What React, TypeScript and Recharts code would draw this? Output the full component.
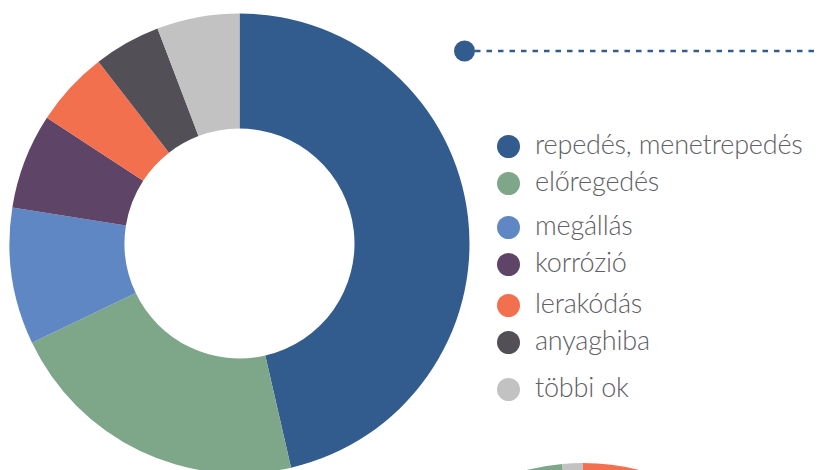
import { PieChart, Pie, Cell, Customized } from 'recharts';

// main donut: causes of failure, share in %
const categories = [
  'repedés, menetrepedés',
  'előregedés',
  'megállás',
  'korrózió',
  'lerakódás',
  'anyaghiba',
  'többi ok'
];
const shares = [46.4, 21.5, 9.6, 6.7, 5.3, 4.7, 5.8];
const colors = ['#325B8E', '#7EA688', '#5F87C4', '#5E4466', '#F2704E', '#524F56', '#C1C2C1'];

// second donut, only its top edge shows at the bottom of the picture
const secondCategories = ['lerakódás', 'repedés, menetrepedés', 'megállás', 'korrózió', 'anyaghiba', 'előregedés', 'többi ok'];
const secondShares = [8, 50, 10, 6, 5, 19.6, 1.4];

const mainData = categories.map((name, i) => ({ name, value: shares[i] }));
const secondData = secondCategories.map((name, i) => ({ name, value: secondShares[i] }));
const colorOf = (name: string) => colors[categories.indexOf(name)];

// legend row centres, relative to the chart box (spacing is a bit uneven in the original)
const legendRowY = [138, 175, 219, 256, 297, 334, 381];

const TEXT = '#606065';

const LegendList = () => (
  <div style={{ position: 'absolute', left: 0, top: 0, fontFamily: 'Lato, sans-serif' }}>
    {categories.map((c, i) => (
      <div
        key={c}
        style={{
          position: 'absolute',
          left: 489,
          top: legendRowY[i] - 20,
          height: 40,
          display: 'flex',
          alignItems: 'center',
          whiteSpace: 'nowrap'
        }}
      >
        <span
          style={{
            width: 23,
            height: 23,
            borderRadius: '50%',
            background: colors[i],
            display: 'inline-block',
            marginRight: 15,
            flex: 'none'
          }}
        />
        <span style={{ fontSize: 27, fontWeight: 300, color: TEXT, lineHeight: '28px', marginTop: -4, letterSpacing: -0.2 }}>
          {c}
        </span>
      </div>
    ))}
  </div>
);

const Pointer = () => (
  <g>
    <line x1={467} y1={43} x2={806} y2={43} stroke="#325B8E" strokeWidth={2.5} strokeDasharray="5.5 6" />
    <circle cx={456.5} cy={43} r={10.5} fill="#325B8E" />
  </g>
);

export default function App() {
  return (
    <div style={{ position: 'relative', width: 806, height: 462 }}>
      <PieChart width={806} height={462} margin={{ top: 0, right: 0, bottom: 0, left: 0 }}>
        <Pie
          data={mainData}
          dataKey="value"
          nameKey="name"
          cx={231.5}
          cy={235.5}
          innerRadius={115}
          outerRadius={230}
          startAngle={90}
          endAngle={-270}
          stroke="none"
          isAnimationActive={false}
        >
          {mainData.map((d) => (
            <Cell key={d.name} fill={colorOf(d.name)} />
          ))}
        </Pie>
        <Pie
          data={secondData}
          dataKey="value"
          nameKey="name"
          cx={574.5}
          cy={685}
          innerRadius={115}
          outerRadius={230}
          startAngle={90}
          endAngle={-270}
          stroke="none"
          isAnimationActive={false}
        >
          {secondData.map((d) => (
            <Cell key={'b' + d.name} fill={colorOf(d.name)} />
          ))}
        </Pie>
        <Customized component={Pointer} />
      </PieChart>
      <LegendList />
    </div>
  );
}
